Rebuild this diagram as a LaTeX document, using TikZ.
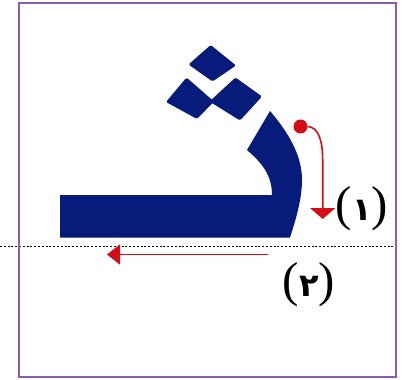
\documentclass[tikz,border=0pt]{standalone}
\usepackage{fontspec}
\usetikzlibrary{arrows.meta}
\TeXXeTstate=1
\newfontfamily\arabicfont[Script=Arabic]{DejaVu Sans}
\newfontfamily\parenfont{Liberation Serif}
\definecolor{harf}{RGB}{6,27,122}
\definecolor{stift}{RGB}{212,14,22}
\definecolor{rahmen}{RGB}{140,92,180}
\newcommand{\ziffer}[1]{{\arabicfont\bfseries\fontsize{32}{32}\selectfont\beginR #1\endR}}
\begin{document}
\begin{tikzpicture}[x = 1pt, y = -1pt,
	zug/.style = {draw = stift, line width = 1.6pt},
	nummer/.style = {inner sep = 0pt, font = \parenfont\fontsize{49}{49}\selectfont}]
	\useasboundingbox ( 0, 0 ) rectangle ( 403, 379 );
	\fill[white] ( 0, 0 ) rectangle ( 403, 379 );
	\draw[line width = 1.8pt, dash pattern = on 2pt off 1.8pt] ( 0, 246.5 ) -- ( 395, 246.5 );
	\draw[rahmen, line width = 2pt] ( 18.5, 3 ) rectangle ( 395.5, 377 );
	% Buchstabe
	\fill[harf] ( 60, 195 ) -- ( 272, 195 ) .. controls ( 272, 175 ) and ( 262, 163 ) .. ( 247, 150 ) -- ( 270, 111 ) .. controls ( 288, 132 ) and ( 302, 155 ) .. ( 302, 180 ) .. controls ( 302, 200 ) and ( 295, 222 ) .. ( 290, 237.5 ) -- ( 60, 237.5 ) -- cycle;
	\fill[harf, rounded corners = 1.5pt] ( 210.7, 45 ) -- ( 236, 65.5 ) -- ( 212.5, 81.5 ) -- ( 188.5, 64.5 ) -- cycle;
	\fill[harf, rounded corners = 1.5pt] ( 186.5, 77.5 ) -- ( 214, 101.5 ) -- ( 197, 119 ) -- ( 166, 102 ) -- cycle;
	\fill[harf, rounded corners = 1.5pt] ( 235.5, 77.5 ) -- ( 262, 96.5 ) -- ( 240, 120.5 ) -- ( 209.5, 101.5 ) -- cycle;
	% Zug 1
	\node[circle, fill = stift, minimum size = 14pt, inner sep = 0pt] (punkt) at ( 300.5, 126.5 ) {};
	\coordinate (endeA) at ( 322.7, 219 );
	\draw[zug, -{Triangle[width = 25pt, length = 11pt]}] (punkt.east) .. controls ( 318, 127 ) and ( 322.7, 140 ) .. ( 322.7, 160 ) -- (endeA);
	% Zug 2
	\coordinate (anfangB) at ( 268, 254.5 );
	\coordinate (endeB) at ( 107, 254.5 );
	\draw[zug, -{Triangle[width = 20pt, length = 13pt]}] (anfangB) -- (endeB);
	\node[nummer] (nrA) at ( 362, 209 ) {(\ziffer{١})};
	\node[nummer] (nrB) at ( 309, 285 ) {(\ziffer{٢})};
\end{tikzpicture}
\end{document}
